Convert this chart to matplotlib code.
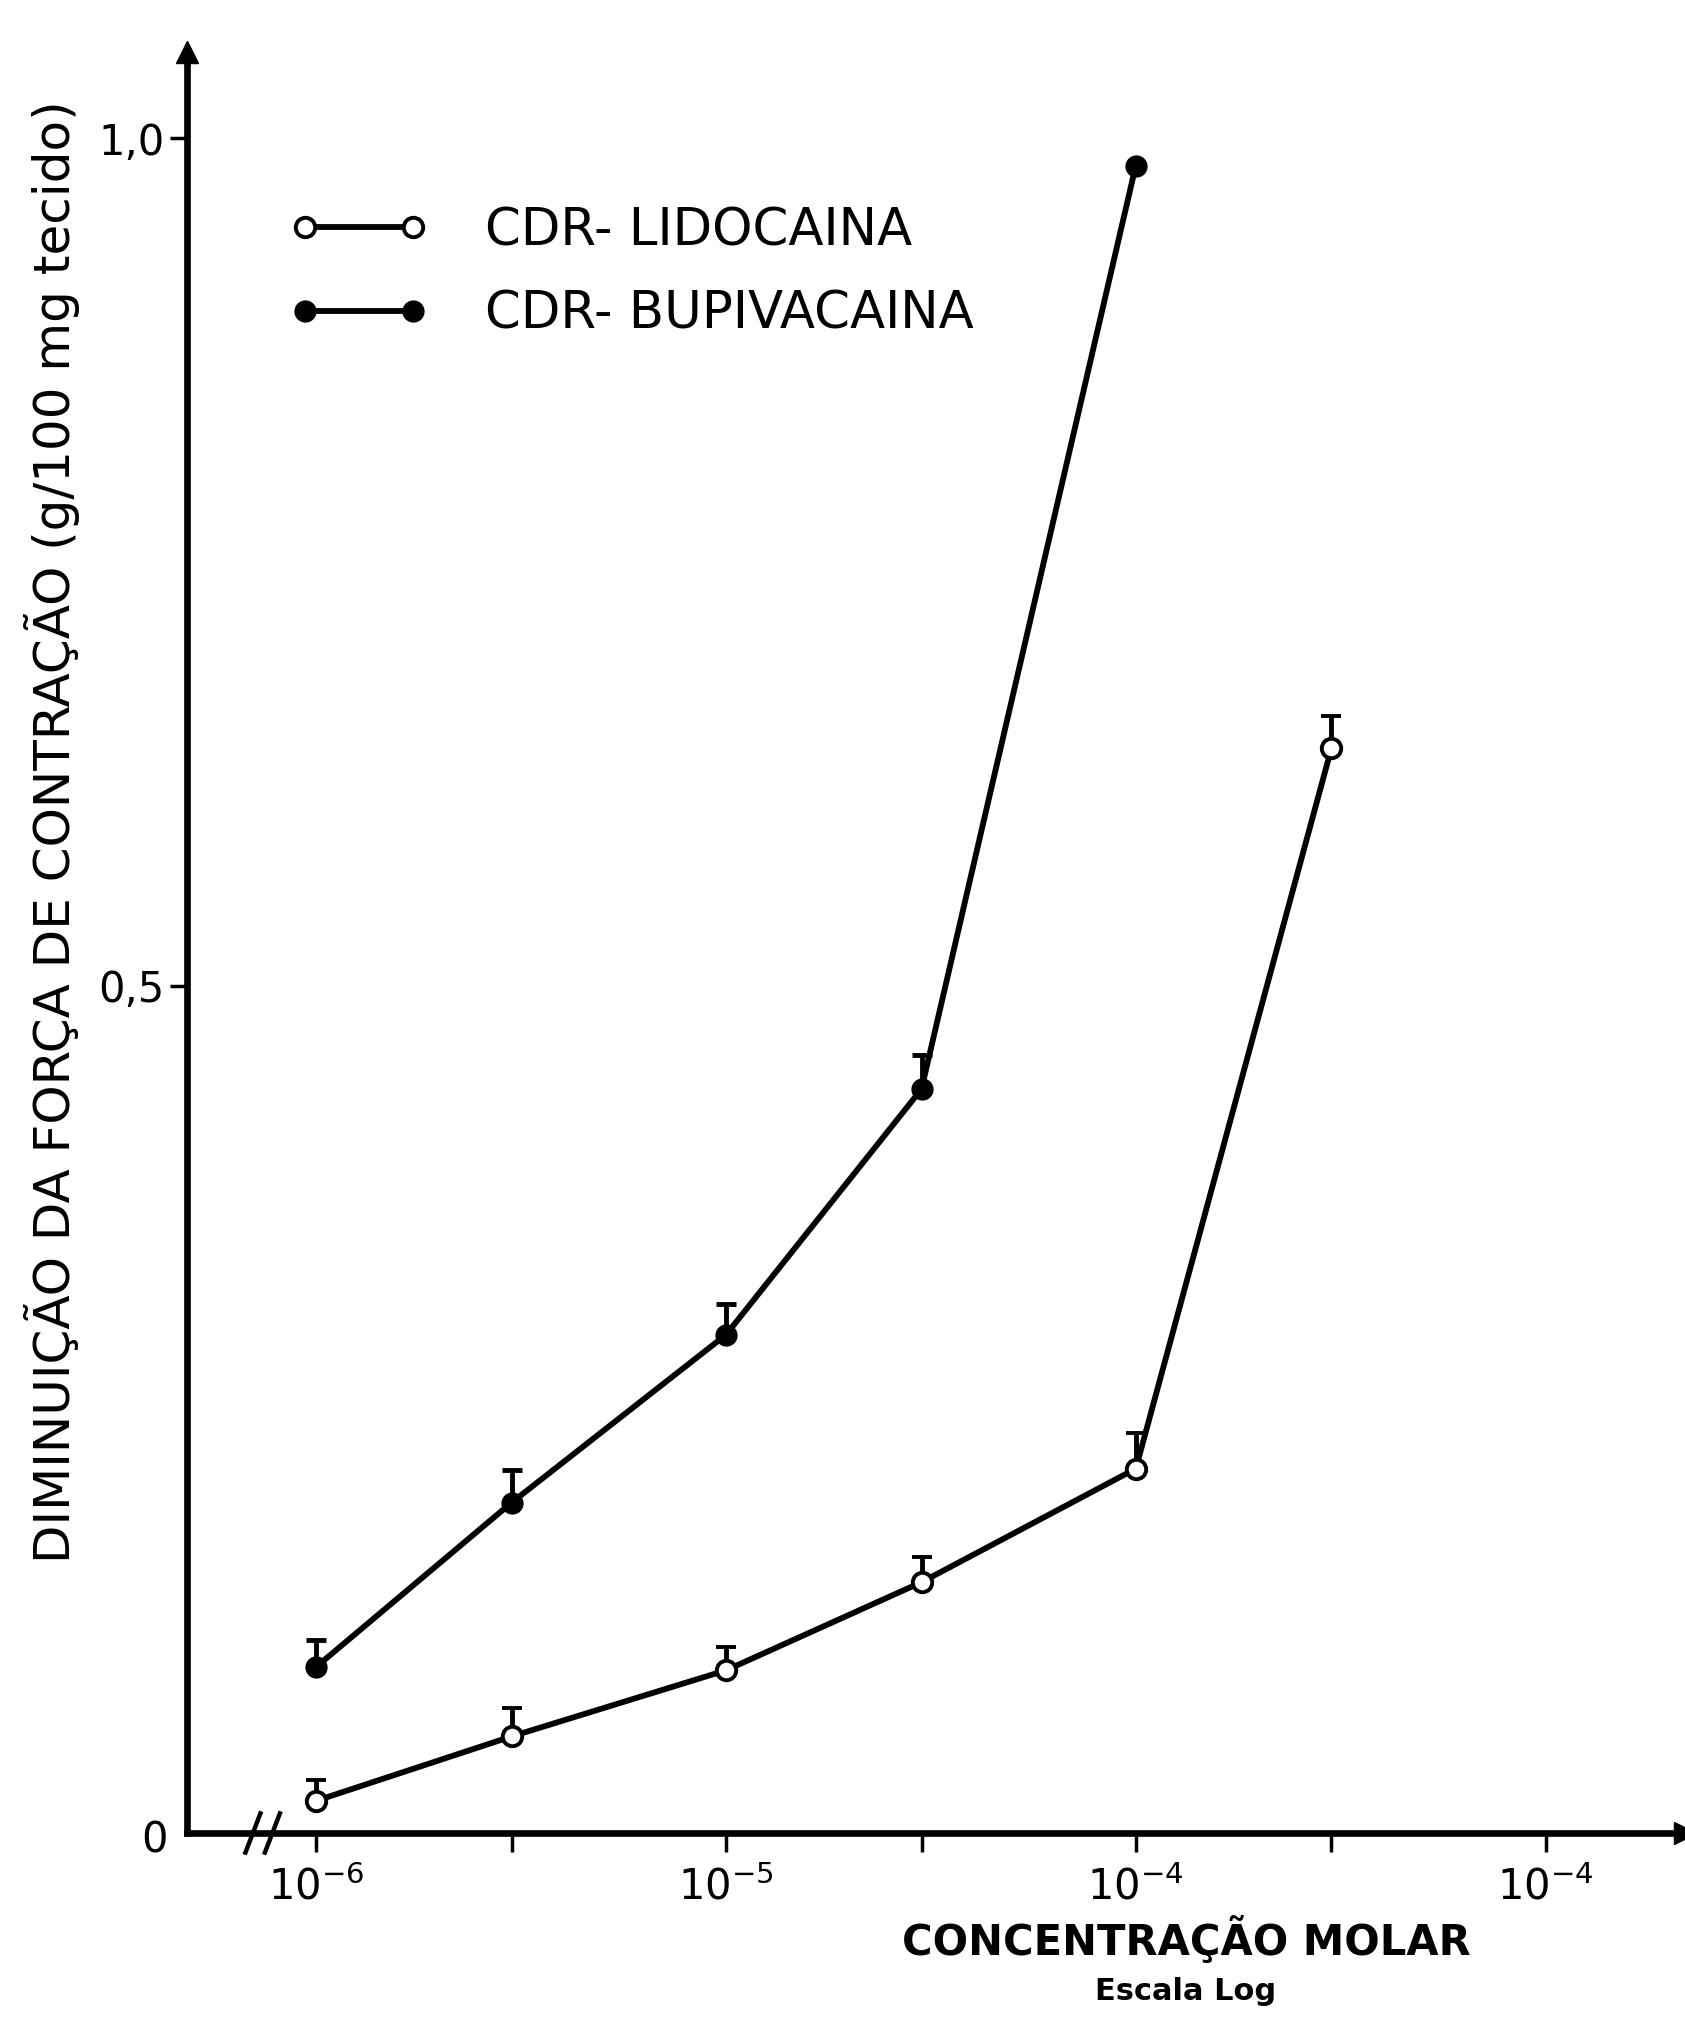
import numpy as np
import matplotlib
matplotlib.use("Agg")
import matplotlib.pyplot as plt
from matplotlib.lines import Line2D

plt.rcParams['font.family'] = ['Liberation Sans Narrow', 'DejaVu Sans']

# ---- data ----
conc_lido = [1e-6, 3e-6, 1e-5, 3e-5, 1e-4, 3e-4]
lido = [0.019, 0.057, 0.096, 0.148, 0.215, 0.640]
lido_err = [0.012, 0.017, 0.014, 0.015, 0.021, 0.019]

conc_bupi = [1e-6, 3e-6, 1e-5, 3e-5, 1e-4]
bupi = [0.098, 0.195, 0.294, 0.439, 0.984]
bupi_err = [0.016, 0.019, 0.018, 0.020, 0.0]

xticks = [1e-6, 3e-6, 1e-5, 3e-5, 1e-4, 3e-4, 1e-3]
xtick_labels = [r'$10^{-6}$', '', r'$10^{-5}$', '', r'$10^{-4}$', '', r'$10^{-4}$']
yticks = [0.5, 1.0]
ytick_labels = ['0,5', '1,0']

labels = ['CDR- LIDOCAINA', 'CDR- BUPIVACAINA']
ylabel = 'DIMINUIÇÃO DA FORÇA DE CONTRAÇÃO (g/100 mg tecido)'
xlabel = 'CONCENTRAÇÃO MOLAR'
xsub = 'Escala Log'

W, H = 1685, 2022
fig = plt.figure(figsize=(W / 100, H / 100), dpi=100)
ax = fig.add_axes([187 / W, 1 - 1833 / H, 1 - 187 / W, (1833 - 52) / H])
ax.set_xscale('log')
ax.set_xlim(10 ** -6.315, 10 ** -2.66)
ax.set_ylim(0, 1.051)

lw = 4.2
ms = 14
ax.errorbar(conc_lido, lido, yerr=[np.zeros(len(lido)), lido_err], fmt='-o',
            color='black', mfc='white', mec='black', mew=2.8, ms=ms, lw=lw,
            capsize=7, capthick=3.5, elinewidth=3.5, zorder=3)
ax.errorbar(conc_bupi, bupi, yerr=[np.zeros(len(bupi)), bupi_err], fmt='-o',
            color='black', mfc='black', mec='black', ms=ms + 1, lw=lw,
            capsize=7, capthick=3.5, elinewidth=3.5, zorder=3)

for s in ['top', 'right']:
    ax.spines[s].set_visible(False)
for s in ['left', 'bottom']:
    ax.spines[s].set_linewidth(4.8)

ax.set_xticks(xticks)
ax.set_xticklabels(xtick_labels)
ax.xaxis.set_minor_locator(matplotlib.ticker.NullLocator())
ax.set_yticks(yticks)
ax.set_yticklabels(ytick_labels)
ax.tick_params(axis='x', direction='out', length=14, width=2.5, labelsize=30, pad=10)
ax.tick_params(axis='y', direction='out', length=12, width=2.5, labelsize=30, pad=4)

# zero label
ax.text(-0.013, -0.004, '0', transform=ax.transAxes, ha='right', va='center', fontsize=30)

# arrows
ax.plot([0], [1], marker='^', ms=16, color='black', transform=ax.transAxes, clip_on=False)
ax.plot([1], [0], marker='>', ms=16, color='black', transform=ax.transAxes, clip_on=False)

# axis break marks
for xo in [0.044, 0.057]:
    ax.plot([xo - 0.005, xo + 0.005], [-0.011, 0.011], color='black', lw=3.2,
            transform=ax.transAxes, clip_on=False)

# legend
handles = [
    Line2D([], [], color='black', lw=lw, marker='o', mfc='white', mec='black', mew=2.8, ms=ms),
    Line2D([], [], color='black', lw=lw, marker='o', mfc='black', mec='black', ms=ms + 1),
]
leg = ax.legend(handles, labels, loc='upper left', bbox_to_anchor=(243 / W, 1 - 160 / H),
                bbox_transform=fig.transFigure, frameon=False, numpoints=2,
                handlelength=2.7, handletextpad=1.1, labelspacing=0.65, fontsize=37)

fig.text(52 / W, 1 - 832 / H, ylabel, rotation=90, ha='center', va='center', fontsize=36)
fig.text(1186 / W, 1 - 1940 / H, xlabel, ha='center', va='center', fontsize=30, fontweight='bold')
fig.text(1186 / W, 1 - 1992 / H, xsub, ha='center', va='center', fontsize=22, fontweight='bold')

fig.savefig('out.png', dpi=100)
